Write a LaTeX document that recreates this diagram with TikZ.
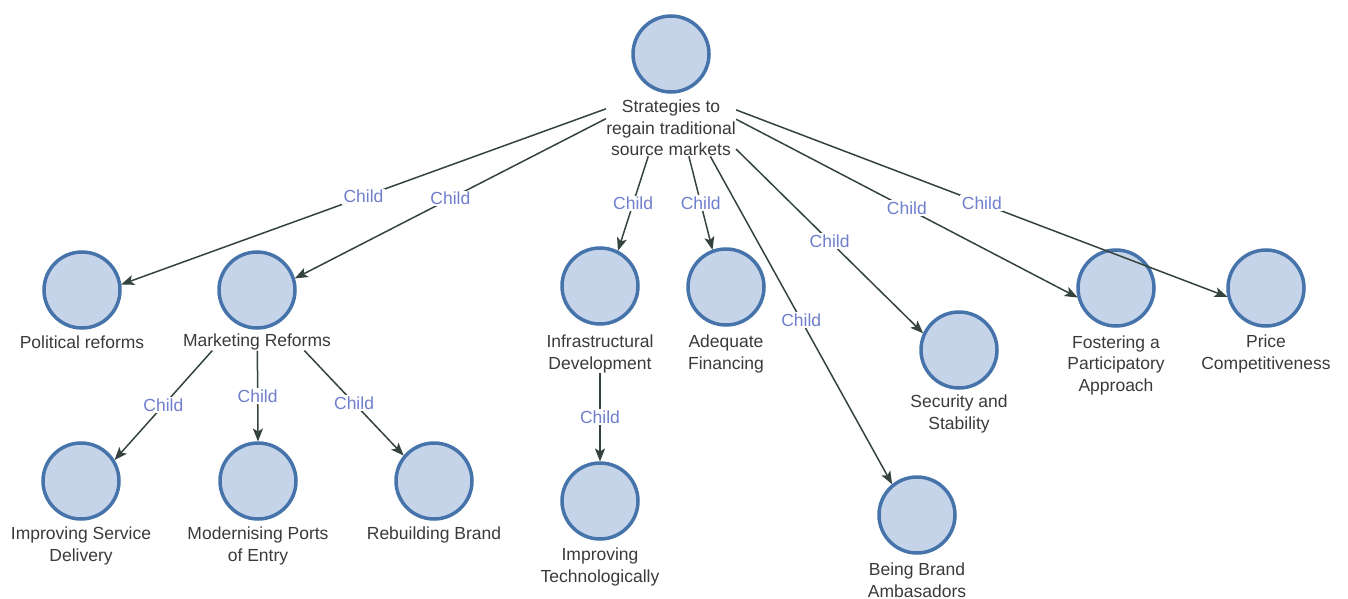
\documentclass[tikz,border=0pt]{standalone}
\usepackage{fontspec}
\setmainfont{Liberation Sans}
\usetikzlibrary{arrows.meta,fit}
\definecolor{cfill}{HTML}{C6D4EA}
\definecolor{cdraw}{HTML}{4674AA}
\definecolor{ctext}{HTML}{3A3A3A}
\definecolor{cedge}{HTML}{34443D}
\definecolor{cchild}{HTML}{6F7FCC}
\tikzset{
 ball/.style={circle, draw=cdraw, fill=cfill, line width=3.5pt, minimum size=76pt, inner sep=0pt, outer sep=1.5pt},
 lab/.style={align=center, text=ctext, inner sep=0pt, font=\fontsize{17.5}{21.5}\selectfont},
 grp/.style={inner sep=0pt, draw=none},
 arr/.style={draw=cedge, line width=1.5pt, -{Stealth[length=13pt,width=10pt,inset=3pt]}},
 lbl/.style={fill=white, text=cchild, inner sep=1.5pt, font=\fontsize{17.5}{20}\selectfont, midway}
}
\begin{document}
\begin{tikzpicture}[x=1pt,y=-1pt]
\useasboundingbox (0,0) rectangle (1348,599);
% circles
\node[ball] (top) at (671,54) {};
\node[ball] (pol) at (82,290) {};
\node[ball] (mkt) at (257,290) {};
\node[ball] (isd) at (81,481) {};
\node[ball] (mpe) at (258,481) {};
\node[ball] (rb) at (434,481) {};
\node[ball] (inf) at (600,286) {};
\node[ball] (adq) at (726,287) {};
\node[ball] (it) at (600,501) {};
\node[ball] (bba) at (917,515) {};
\node[ball] (sec) at (959,350) {};
\node[ball] (fos) at (1116,288) {};
\node[ball] (prc) at (1266,288) {};
% labels
\node[lab] (topl) at (671,128) {Strategies to\\regain traditional\\source markets};
\node[lab] (poll) at (82,342) {Political reforms};
\node[lab] (mktl) at (257,342) {Marketing Reforms};
\node[lab] (isdl) at (81,546) {Improving Service\\Delivery};
\node[lab] (mpel) at (258,546) {Modernising Ports\\of Entry};
\node[lab] (rbl) at (434,535) {Rebuilding Brand};
\node[lab] (infl) at (600,354) {Infrastructural\\Development};
\node[lab] (adql) at (726,354) {Adequate\\Financing};
\node[lab] (itl) at (600,567) {Improving\\Technologically};
\node[lab] (bbal) at (917,580) {Being Brand\\Ambasadors};
\node[lab] (secl) at (959,414) {Security and\\Stability};
\node[lab] (fosl) at (1116,365) {Fostering a\\Participatory\\Approach};
\node[lab] (prcl) at (1266,354) {Price\\Competitiveness};
% groups
\node[grp, fit=(top)(topl)] (topg) {};
\node[grp, fit=(mkt)(mktl)] (mktg) {};
\node[grp, fit=(inf)(infl)] (infg) {};
% edges
\draw[arr] (topg) -- (pol.8) node[lbl] {Child};
\draw[arr] (topg) -- (mkt.17) node[lbl] {Child};
\draw[arr] (topg) -- (inf.63) node[lbl] {Child};
\draw[arr] (topg) -- (adq.110) node[lbl] {Child};
\draw[arr] (topg) -- (bba.129) node[lbl] {Child};
\draw[arr] (topg) -- (sec.155) node[lbl] {Child};
\draw[arr] (topg) -- (fos.194) node[lbl] {Child};
\draw[arr] (topg) -- (prc.193) node[lbl] {Child};
\draw[arr] (mktg) -- (isd.32) node[lbl] {Child};
\draw[arr] (mktg) -- (mpe.90) node[lbl] {Child};
\draw[arr] (mktg) -- (rb.140) node[lbl] {Child};
\draw[arr] (infg) -- (it.90) node[lbl] {Child};
\end{tikzpicture}
\end{document}
